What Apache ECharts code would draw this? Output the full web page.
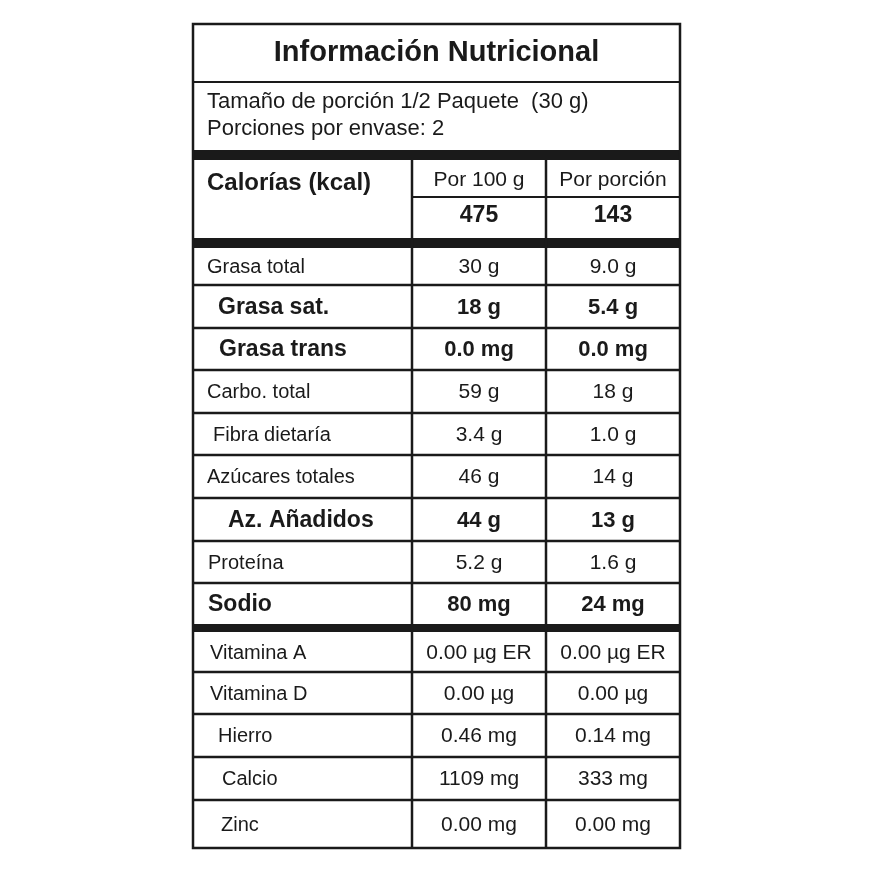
<!DOCTYPE html>
<html><head><meta charset="utf-8">
<script src="https://cdn.jsdelivr.net/npm/echarts@6/dist/echarts.min.js"></script>
<style>html,body{margin:0;padding:0;background:#fff}#c{width:873px;height:873px}</style>
</head><body><div id="c"></div>
<script>
const title = "Información Nutricional";
const servingLines = ["Tamaño de porción 1/2 Paquete  (30 g)", "Porciones por envase: 2"];
const headerLabel = "Calorías (kcal)";
const columnHeads = ["Por 100 g", "Por porción"];
const calories = ["475", "143"];
const nutrients = ["Grasa total","Grasa sat.","Grasa trans","Carbo. total","Fibra dietaría","Azúcares totales","Az. Añadidos","Proteína","Sodio","Vitamina A","Vitamina D","Hierro","Calcio","Zinc"];
const per100 = ["30 g","18 g","0.0 mg","59 g","3.4 g","46 g","44 g","5.2 g","80 mg","0.00 µg ER","0.00 µg","0.46 mg","1109 mg","0.00 mg"];
const perServing = ["9.0 g","5.4 g","0.0 mg","18 g","1.0 g","14 g","13 g","1.6 g","24 mg","0.00 µg ER","0.00 µg","0.14 mg","333 mg","0.00 mg"];
const boldRow = [false,true,true,false,false,false,true,false,true,false,false,false,false,false];

// layout (pixel-space axes)
const L = 193, R = 680, C1 = 412, C2 = 546;
const rowTops = [248,285,328,370,413,455,498,541,583,632,672,714,757,800,848];
const indent = [207,218,219,207,213,207,228,208,208,210,210,218,222,221];
const FF = '"Liberation Sans", Arial, sans-serif';

function renderItem(params, api) {
  const idx = api.value(0);
  const P = (x, y) => api.coord([x, y]);
  const line = (x1,y1,x2,y2,w) => { const a=P(x1,y1), b=P(x2,y2); return {type:'line', shape:{x1:a[0],y1:a[1],x2:b[0],y2:b[1]}, style:{stroke:'#1a1a1a', lineWidth:w}}; };
  const rect = (x1,y1,x2,y2) => { const a=P(x1,y1), b=P(x2,y2); return {type:'rect', shape:{x:a[0],y:a[1],width:b[0]-a[0],height:b[1]-a[1]}, style:{fill:'#1a1a1a'}}; };
  const text = (s,x,y,size,bold,align) => { const a=P(x,y); return {type:'text', style:{text:s, x:a[0], y:a[1], fill:'#1a1a1a', font:(bold?'bold ':'')+size+'px '+FF, align:align||'left', verticalAlign:'middle'}}; };
  const ch = [];
  if (idx < 0) {
    ch.push(text(title, (L+R)/2, 53, 29, true, 'center'));
    ch.push(line(L,82,R,82,2));
    ch.push(text(servingLines[0], 207, 102, 22, false));
    ch.push(text(servingLines[1], 207, 129, 22, false));
    ch.push(rect(L,150,R,160));
    ch.push(text(headerLabel, 207, 183, 24, true));
    ch.push(text(columnHeads[0], (C1+C2)/2, 180, 21, false, 'center'));
    ch.push(text(columnHeads[1], (C2+R)/2, 180, 21, false, 'center'));
    ch.push(line(C1,197,R,197,2));
    ch.push(text(calories[0], (C1+C2)/2, 216, 23, true, 'center'));
    ch.push(text(calories[1], (C2+R)/2, 216, 23, true, 'center'));
    ch.push(rect(L,238,R,248));
    ch.push(rect(L,624,R,632));
    ch.push(line(C1,160,C1,848,2.5));
    ch.push(line(C2,160,C2,848,2.5));
    ch.push({type:'rect', shape:(()=>{const a=P(L,24),b=P(R,848);return {x:a[0],y:a[1],width:b[0]-a[0],height:b[1]-a[1]};})(), style:{fill:null, stroke:'#1a1a1a', lineWidth:2.5}});
  } else {
    const top = rowTops[idx], bot = idx===8 ? 624 : rowTops[idx+1];
    const cy = (top+bot)/2 + 1;
    const b = boldRow[idx], sz = b ? 23 : 20;
    ch.push(text(nutrients[idx], indent[idx], cy, sz, b));
    ch.push(text(per100[idx], (C1+C2)/2, cy, b?22:21, b, 'center'));
    ch.push(text(perServing[idx], (C2+R)/2, cy, b?22:21, b, 'center'));
    if (idx !== 8 && idx !== 13) ch.push(line(L,bot,R,bot,2.5));
  }
  return {type:'group', children: ch};
}

const chart = echarts.init(document.getElementById('c'));
chart.setOption({
  animation:false,
  grid:{left:0,right:0,top:0,bottom:0},
  xAxis:{type:'value',min:0,max:873,show:false},
  yAxis:{type:'value',min:0,max:873,inverse:true,show:false},
  series:[{type:'custom', renderItem, coordinateSystem:'cartesian2d',
    data:[[-1]].concat(nutrients.map((_,i)=>[i]))}]
});
</script></body></html>
